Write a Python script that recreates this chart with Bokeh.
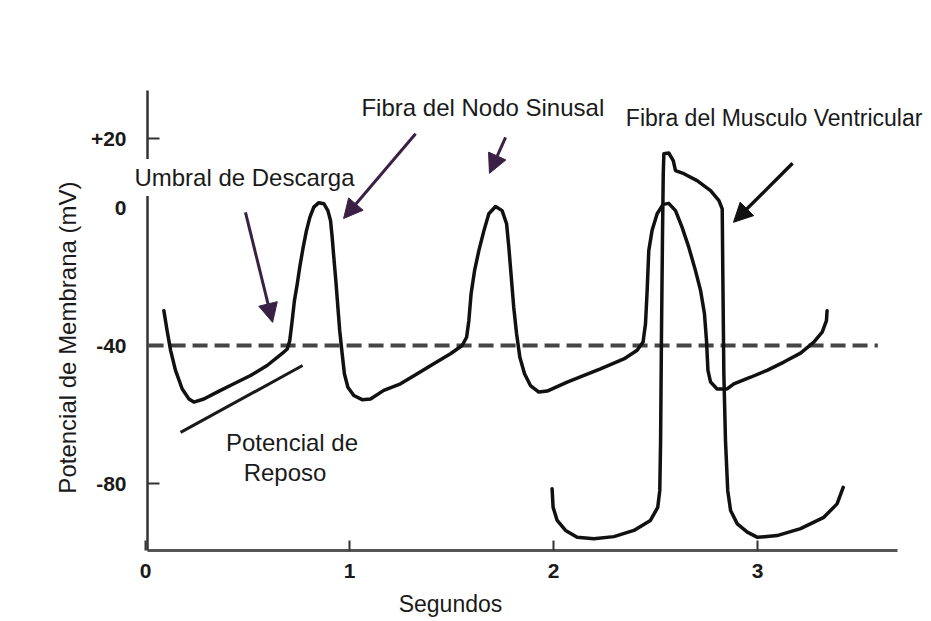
import math
from bokeh.plotting import figure
from bokeh.models import Range1d, FixedTicker, Label, Arrow, NormalHead
from bokeh.embed import file_html
from bokeh.resources import INLINE

# ---- data (time in s, membrane potential in mV) ----
sinus_t = [0.090, 0.106, 0.123, 0.147, 0.180, 0.213, 0.237, 0.286, 0.351, 0.433, 0.515, 0.596,
           0.678, 0.695, 0.707, 0.719, 0.730, 0.744, 0.756, 0.773, 0.789, 0.806, 0.825, 0.850,
           0.874, 0.894, 0.907, 0.915, 0.923, 0.933, 0.943, 0.952, 0.964, 0.975, 0.992, 1.021,
           1.062, 1.103, 1.168, 1.250, 1.332, 1.413, 1.495, 1.552, 1.574, 1.585, 1.596, 1.613,
           1.634, 1.659, 1.683, 1.716, 1.748, 1.770, 1.781, 1.793, 1.805, 1.819, 1.835, 1.858,
           1.887, 1.928, 1.969, 2.067, 2.230, 2.345, 2.410, 2.439, 2.451, 2.459, 2.467, 2.483,
           2.508, 2.537, 2.565, 2.598, 2.630, 2.663, 2.696, 2.721, 2.740, 2.750, 2.757, 2.770,
           2.802, 2.851, 2.884, 2.966, 3.047, 3.129, 3.211, 3.276, 3.317, 3.338, 3.341]
sinus_mv = [-29.9, -35.7, -41.4, -47.2, -52.6, -55.5, -56.4, -55.5, -53.5, -51.1, -48.7, -45.8,
            -41.9, -41.0, -38.6, -32.8, -27.0, -22.1, -17.3, -11.5, -6.7, -2.8, 0.1, 1.4,
            1.1, -0.9, -3.8, -8.6, -14.4, -21.2, -28.9, -35.7, -42.4, -48.2, -52.1, -54.5,
            -55.7, -55.5, -53.0, -51.1, -48.2, -45.3, -42.4, -40.0, -37.6, -32.8, -25.0, -18.3,
            -12.5, -6.7, -1.8, 0.3, -0.9, -4.7, -11.5, -20.2, -28.9, -36.6, -43.4, -48.2,
            -51.6, -53.5, -53.2, -50.6, -46.8, -43.9, -41.4, -39.0, -33.7, -24.1, -12.5, -6.7,
            -1.8, 0.9, 1.2, -0.9, -5.7, -11.5, -18.3, -24.1, -30.8, -38.6, -47.2, -50.6,
            -52.6, -52.6, -51.1, -49.2, -47.2, -44.8, -42.2, -39.0, -36.1, -32.8, -29.9]

vent_t = [1.993, 1.998, 2.018, 2.059, 2.116, 2.198, 2.296, 2.394, 2.475, 2.511, 2.521, 2.525,
          2.529, 2.534, 2.538, 2.541, 2.565, 2.587, 2.598, 2.639, 2.704, 2.770, 2.811, 2.827,
          2.830, 2.835, 2.843, 2.854, 2.868, 2.901, 2.950, 3.000, 3.096, 3.211, 3.325, 3.390, 3.420]
vent_mv = [-81.5, -86.9, -90.7, -93.6, -95.6, -96.0, -95.4, -93.6, -90.7, -86.9, -82.0, -67.5,
           -38.6, -9.6, 9.8, 15.6, 15.8, 13.6, 10.7, 9.8, 7.8, 4.9, 2.0, -0.4,
           -19.2, -48.2, -67.5, -82.0, -87.8, -91.7, -94.1, -95.6, -95.1, -93.1, -89.8, -85.9, -81.1]

threshold_t = [0.015, 3.59]
threshold_mv = [-40, -40]

rest_t = [0.172, 0.770]
rest_mv = [-65.2, -45.8]

y_ticks = [20, 0, -40, -80]
y_tick_labels = {20: "+20", 0: "0", -40: "-40", -80: "-80"}
x_ticks = [0, 1, 2, 3]

# arrows: (x_start, y_start, x_end, y_end)
arrows_purple = [(0.490, -1.4, 0.623, -33.3),
                 (1.324, 21.4, 0.971, -3.2),
                 (1.765, 20.3, 1.686, 9.9)]
arrows_black = [(3.172, 12.8, 2.882, -4.3)]

FONT = "Liberation Sans"
INK = "#1a1a1a"

p = figure(width=931, height=621, output_backend="svg", toolbar_location=None,
           x_range=Range1d(-0.7108, 3.8529), y_range=Range1d(-120.0, 60.0))
p.min_border = 0
p.min_border_left = 0
p.min_border_right = 0
p.min_border_top = 0
p.min_border_bottom = 0
p.outline_line_color = None
p.grid.visible = False
p.background_fill_color = "white"
p.border_fill_color = "white"

# axes (drawn at fixed data positions inside the canvas)
xa = p.xaxis[0]
xa.fixed_location = -99.42
xa.ticker = FixedTicker(ticks=x_ticks, minor_ticks=[])
xa.bounds = (0.0098, 3.686)
xa.axis_line_color = "#555555"
xa.axis_line_width = 3
xa.major_tick_in = 10
xa.major_tick_out = 0
xa.major_tick_line_color = "#333333"
xa.major_tick_line_width = 2
xa.minor_tick_line_color = None
xa.major_label_text_font = FONT
xa.major_label_text_font_style = "bold"
xa.major_label_text_font_size = "21px"
xa.major_label_text_color = INK
xa.major_label_standoff = 14

ya = p.yaxis[0]
ya.fixed_location = 0.0098
ya.ticker = FixedTicker(ticks=y_ticks, minor_ticks=[20, -80])
ya.major_label_overrides = y_tick_labels
ya.bounds = (-99.42, 33.9)
ya.axis_line_color = "#333333"
ya.axis_line_width = 2.5
ya.major_tick_in = 0
ya.major_tick_out = 0
ya.minor_tick_in = 12
ya.minor_tick_out = 0
ya.minor_tick_line_color = "#333333"
ya.minor_tick_line_width = 2
ya.major_label_text_font = FONT
ya.major_label_text_font_style = "bold"
ya.major_label_text_font_size = "21px"
ya.major_label_text_color = INK
ya.major_label_standoff = 21

# threshold line
p.line(threshold_t, threshold_mv, line_color="#454545", line_width=4, line_dash="15 7")

# resting potential marker line
p.line(rest_t, rest_mv, line_color=INK, line_width=3)

# curves
p.line(sinus_t, sinus_mv, line_color="#111111", line_width=3.5, line_join="round", line_cap="round")
p.line(vent_t, vent_mv, line_color="#111111", line_width=3.5, line_join="round", line_cap="round")

# arrows
for (x0, y0, x1, y1) in arrows_purple:
    c = "#3a2045"
    p.add_layout(Arrow(end=NormalHead(size=19, fill_color=c, line_color=c),
                       x_start=x0, y_start=y0, x_end=x1, y_end=y1,
                       line_color=c, line_width=3))
for (x0, y0, x1, y1) in arrows_black:
    c = "#111111"
    p.add_layout(Arrow(end=NormalHead(size=19, fill_color=c, line_color=c),
                       x_start=x0, y_start=y0, x_end=x1, y_end=y1,
                       line_color=c, line_width=3.5))

# text labels
def lab(x, y, text, align="left", size="24px", baseline="alphabetic", angle=0.0):
    l = Label(x=x, y=y, text=text, text_font=FONT, text_font_size=size,
              text_color=INK, text_align=align, text_baseline=baseline, angle=angle,
              background_fill_color="white", background_fill_alpha=1.0, padding=5)
    p.add_layout(l)

lab(-0.079, 8.7, "Umbral de Descarga")
lab(1.034, 29.0, "Fibra del Nodo Sinusal")
lab(2.330, 25.8, "Fibra del Musculo Ventricular", size="23px")
lab(0.718, -68.1, "Potencial de", align="center")
lab(0.684, -76.8, "Reposo", align="center")
lab(1.495, -115.0, "Segundos", align="center", size="23px")
lab(-0.382, -37.7, "Potencial de Membrana (mV)", align="center", baseline="middle",
    angle=math.pi / 2)

open("out.html", "w").write(file_html(p, INLINE))
